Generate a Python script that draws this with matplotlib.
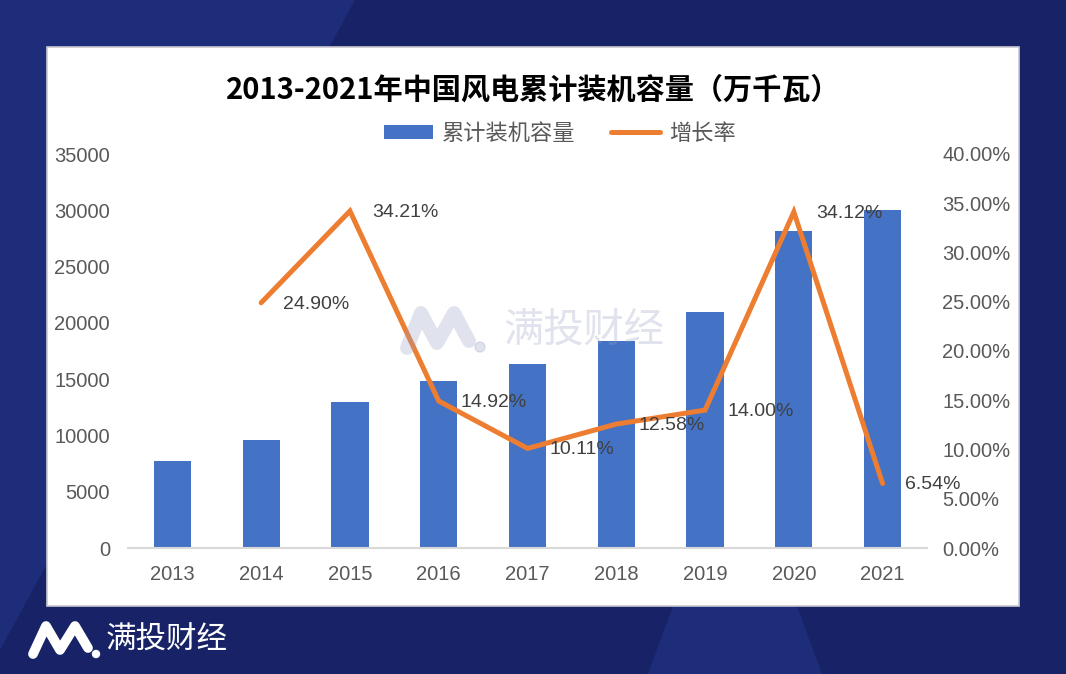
import numpy as np
import matplotlib
matplotlib.use("Agg")
import matplotlib.pyplot as plt
from matplotlib.patches import Polygon, Rectangle, Circle

plt.rcParams['font.family'] = ['Noto Sans CJK SC', 'DejaVu Sans']

# data
years = ['2013', '2014', '2015', '2016', '2017', '2018', '2019', '2020', '2021']
capacity = [7716, 9637, 12934, 14864, 16367, 18426, 21005, 28172, 30015]
growth = [None, 24.90, 34.21, 14.92, 10.11, 12.58, 14.00, 34.12, 6.54]
growth_labels = ['', '24.90%', '34.21%', '14.92%', '10.11%', '12.58%', '14.00%', '34.12%', '6.54%']
left_ticks = [0, 5000, 10000, 15000, 20000, 25000, 30000, 35000]
right_ticks = [0, 5, 10, 15, 20, 25, 30, 35, 40]

W, H = 1066, 674
navy = '#172366'
navy_light = '#1e2d79'
bar_c = '#4472C4'
line_c = '#ED7D31'
txt_c = '#595959'

fig = plt.figure(figsize=(W / 100, H / 100), dpi=100)
fig.patch.set_facecolor(navy)

# background layer in pixel coords
bg = fig.add_axes([0, 0, 1, 1], zorder=-10)
bg.set_xlim(0, W); bg.set_ylim(H, 0); bg.axis('off')
bg.add_patch(Polygon([(0, 0), (355, 0), (0, 650)], closed=True, color=navy_light, lw=0))
bg.add_patch(Polygon([(690, 560), (780, 560), (822, 674), (648, 674)], closed=True, color=navy_light, lw=0))
bg.add_patch(Rectangle((47, 47), 972, 559, facecolor='white', edgecolor='#c8c8d0', lw=1.2))

# bottom logo
bg.plot([33, 46, 60, 75, 88], [654, 626, 650, 626, 648], color='white', lw=7,
        solid_capstyle='round', solid_joinstyle='round')
bg.add_patch(Circle((96, 654), 3.5, color='white'))
bg.text(106, 640, '满投财经', color='white', fontsize=22, va='center', ha='left')

# chart
x = np.arange(len(years))
ax = fig.add_axes([128 / W, 1 - 548 / H, (927 - 128) / W, (548 - 154) / H])
ax.set_facecolor('none')
ax.bar(x, capacity, width=0.42, color=bar_c, label='累计装机容量', zorder=2)
ax.set_xlim(-0.5, len(years) - 0.5)
ax.set_ylim(0, 35000)
ax.set_yticks(left_ticks)
ax.set_yticklabels([str(v) for v in left_ticks], family='Liberation Sans', fontsize=14.5, color=txt_c)
ax.set_xticks(x)
ax.set_xticklabels(years, family='Liberation Sans', fontsize=14.5, color=txt_c)
ax.tick_params(axis='both', length=0)
ax.tick_params(axis='y', pad=13)
ax.tick_params(axis='x', pad=12)
for s in ['top', 'left', 'right']:
    ax.spines[s].set_visible(False)
ax.spines['bottom'].set_color('#d9d9d9')
ax.spines['bottom'].set_linewidth(1.5)

ax2 = ax.twinx()
gx = [i for i, g in enumerate(growth) if g is not None]
gy = [g for g in growth if g is not None]
ax2.plot(gx, gy, color=line_c, lw=3.6, label='增长率', solid_capstyle='round',
         solid_joinstyle='miter', zorder=3)
ax2.set_ylim(0, 40)
ax2.set_yticks(right_ticks)
ax2.set_yticklabels(['%.2f%%' % v for v in right_ticks], family='Liberation Sans', fontsize=14.5, color=txt_c)
ax2.tick_params(axis='y', length=0, pad=11)
for s in ['top', 'left', 'right', 'bottom']:
    ax2.spines[s].set_visible(False)
for i, g in enumerate(growth):
    if g is None:
        continue
    ax2.annotate(growth_labels[i], (i, g), xytext=(16, -1), textcoords='offset points',
                 ha='left', va='center', fontsize=14, family='Liberation Sans', color='#404040', zorder=5)

# title and legend
fig.text(533 / W, 1 - 90 / H, '2013-2021年中国风电累计装机容量（万千瓦）', ha='center', va='center',
         fontsize=21, fontweight='bold', color='black')
h1, l1 = ax.get_legend_handles_labels()
h2, l2 = ax2.get_legend_handles_labels()
fig.legend(h1 + h2, l1 + l2, loc='center', bbox_to_anchor=(560 / W, 1 - 133 / H), ncol=2,
           frameon=False, fontsize=16, labelcolor=txt_c, handlelength=2.2, handleheight=0.6,
           columnspacing=1.6, handletextpad=0.4)

# watermark
wm = fig.add_axes([0, 0, 1, 1], zorder=10)
wm.set_xlim(0, W); wm.set_ylim(H, 0); wm.axis('off')
wm_c = '#9aa0c4'
wm.plot([407, 421, 437, 454, 469], [348, 313, 343, 313, 341], color=wm_c, lw=10, alpha=0.3,
        solid_capstyle='round', solid_joinstyle='round')
wm.add_patch(Circle((480, 347), 5, color=wm_c, alpha=0.3))
wm.text(503, 331, '满投财经', color=wm_c, alpha=0.3, fontsize=29, va='center', ha='left')

fig.savefig('out.png', dpi=100, facecolor=fig.get_facecolor())
